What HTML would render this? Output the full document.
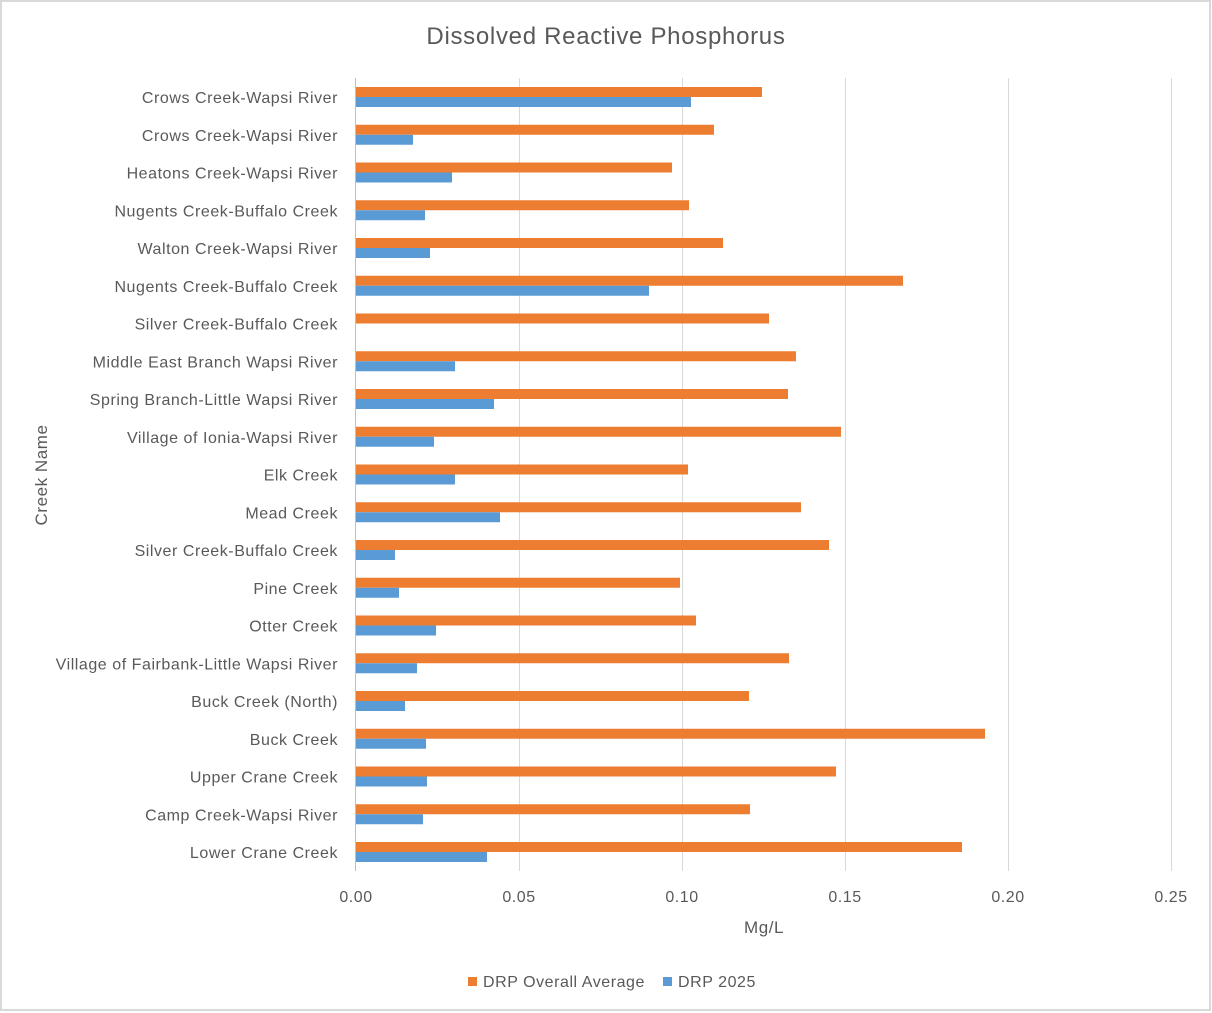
<!DOCTYPE html>
<html><head><meta charset="utf-8"><style>
body{margin:0;background:#fff}
svg{display:block}
text{font-family:"Liberation Sans",sans-serif;fill:#595959}
.l{letter-spacing:0.55px}
</style></head><body>
<svg width="1212" height="1013" viewBox="0 0 1212 1013">
<rect x="1" y="1" width="1209" height="1009" fill="#fff" stroke="#d9d9d9" stroke-width="2"/>
<text x="606" y="44" font-size="24" text-anchor="middle" style="letter-spacing:0.7px">Dissolved Reactive Phosphorus</text>
<g stroke="#d9d9d9" stroke-width="1">
<line x1="519.5" y1="78" x2="519.5" y2="871"/>
<line x1="682.5" y1="78" x2="682.5" y2="871"/>
<line x1="845.5" y1="78" x2="845.5" y2="871"/>
<line x1="1008.5" y1="78" x2="1008.5" y2="871"/>
<line x1="1171.5" y1="78" x2="1171.5" y2="871"/>
<line x1="355.5" y1="78" x2="355.5" y2="871" stroke="#bfbfbf"/>
</g>
<g fill="#ED7D31">
<rect x="356" y="87" width="406" height="10"/>
<rect x="356" y="124.75" width="358" height="10"/>
<rect x="356" y="162.5" width="316" height="10"/>
<rect x="356" y="200.25" width="333" height="10"/>
<rect x="356" y="238" width="367" height="10"/>
<rect x="356" y="275.75" width="547" height="10"/>
<rect x="356" y="313.5" width="413" height="10"/>
<rect x="356" y="351.25" width="440" height="10"/>
<rect x="356" y="389" width="432" height="10"/>
<rect x="356" y="426.75" width="485" height="10"/>
<rect x="356" y="464.5" width="332" height="10"/>
<rect x="356" y="502.25" width="445" height="10"/>
<rect x="356" y="540" width="473" height="10"/>
<rect x="356" y="577.75" width="324" height="10"/>
<rect x="356" y="615.5" width="340" height="10"/>
<rect x="356" y="653.25" width="433" height="10"/>
<rect x="356" y="691" width="393" height="10"/>
<rect x="356" y="728.75" width="629" height="10"/>
<rect x="356" y="766.5" width="480" height="10"/>
<rect x="356" y="804.25" width="394" height="10"/>
<rect x="356" y="842" width="606" height="10"/>
</g>
<g fill="#5B9BD5">
<rect x="356" y="97" width="335" height="10"/>
<rect x="356" y="134.75" width="57" height="10"/>
<rect x="356" y="172.5" width="96" height="10"/>
<rect x="356" y="210.25" width="69" height="10"/>
<rect x="356" y="248" width="74" height="10"/>
<rect x="356" y="285.75" width="293" height="10"/>
<rect x="356" y="361.25" width="99" height="10"/>
<rect x="356" y="399" width="138" height="10"/>
<rect x="356" y="436.75" width="78" height="10"/>
<rect x="356" y="474.5" width="99" height="10"/>
<rect x="356" y="512.25" width="144" height="10"/>
<rect x="356" y="550" width="39" height="10"/>
<rect x="356" y="587.75" width="43" height="10"/>
<rect x="356" y="625.5" width="80" height="10"/>
<rect x="356" y="663.25" width="61" height="10"/>
<rect x="356" y="701" width="49" height="10"/>
<rect x="356" y="738.75" width="70" height="10"/>
<rect x="356" y="776.5" width="71" height="10"/>
<rect x="356" y="814.25" width="67" height="10"/>
<rect x="356" y="852" width="131" height="10"/>
</g>
<g font-size="16" text-anchor="end" class="l">
<text x="338" y="103">Crows Creek-Wapsi River</text>
<text x="338" y="140.75">Crows Creek-Wapsi River</text>
<text x="338" y="178.5">Heatons Creek-Wapsi River</text>
<text x="338" y="216.25">Nugents Creek-Buffalo Creek</text>
<text x="338" y="254">Walton Creek-Wapsi River</text>
<text x="338" y="291.75">Nugents Creek-Buffalo Creek</text>
<text x="338" y="329.5">Silver Creek-Buffalo Creek</text>
<text x="338" y="367.25">Middle East Branch Wapsi River</text>
<text x="338" y="405">Spring Branch-Little Wapsi River</text>
<text x="338" y="442.75">Village of Ionia-Wapsi River</text>
<text x="338" y="480.5">Elk Creek</text>
<text x="338" y="518.25">Mead Creek</text>
<text x="338" y="556">Silver Creek-Buffalo Creek</text>
<text x="338" y="593.75">Pine Creek</text>
<text x="338" y="631.5">Otter Creek</text>
<text x="338" y="669.25">Village of Fairbank-Little Wapsi River</text>
<text x="338" y="707">Buck Creek (North)</text>
<text x="338" y="744.75">Buck Creek</text>
<text x="338" y="782.5">Upper Crane Creek</text>
<text x="338" y="820.25">Camp Creek-Wapsi River</text>
<text x="338" y="858">Lower Crane Creek</text>
</g>
<g font-size="16" text-anchor="middle" class="l">
<text x="356" y="902">0.00</text>
<text x="519" y="902">0.05</text>
<text x="682" y="902">0.10</text>
<text x="845" y="902">0.15</text>
<text x="1008" y="902">0.20</text>
<text x="1171" y="902">0.25</text>
<text x="764" y="933" font-size="17">Mg/L</text>
<text transform="translate(47,475) rotate(-90)" font-size="17">Creek Name</text>
</g>
<rect x="468" y="977" width="9" height="9" fill="#ED7D31"/>
<text x="483" y="987" font-size="16" class="l">DRP Overall Average</text>
<rect x="663" y="977" width="9" height="9" fill="#5B9BD5"/>
<text x="678" y="987" font-size="16" class="l">DRP 2025</text>
</svg>
</body></html>
